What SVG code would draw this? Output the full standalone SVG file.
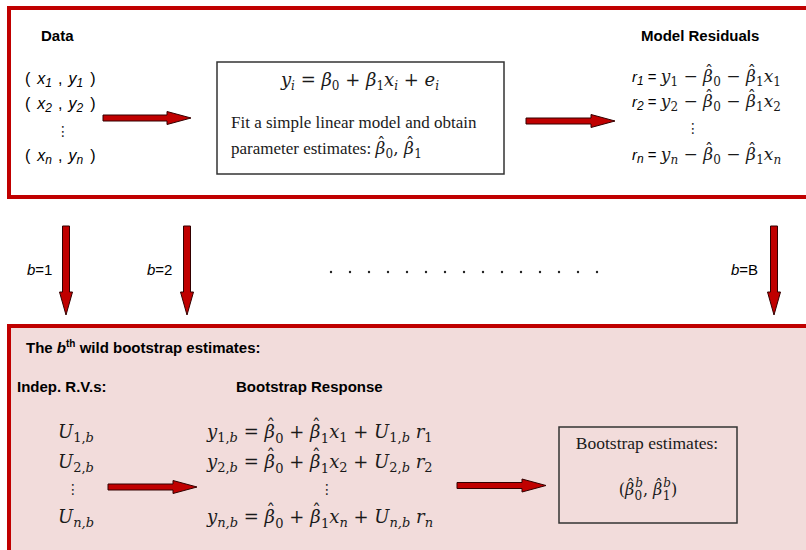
<svg xmlns="http://www.w3.org/2000/svg" width="806" height="550" viewBox="0 0 806 550">
<style>
.sans{font-family:"Liberation Sans",Arial,sans-serif;fill:#000}
.bold{font-weight:bold;font-size:15px}
.pt{font-size:16px}
.it{font-style:italic}
.up{font-style:normal}
.m{font-family:"DejaVu Serif",serif;fill:#1a1a1a}
.r{font-family:"Liberation Serif",serif;fill:#1a1a1a}
.sub{font-size:12px}
.dots{font-family:"DejaVu Sans",sans-serif;font-size:14px;fill:#222}
.arrow{fill:#C00000;stroke:#300;stroke-width:1}
.frame{fill:none;stroke:#333;stroke-width:1.5}
</style>
<g id="top-panel">
<rect x="9" y="8" width="820" height="189" fill="#fff" stroke="#C00000" stroke-width="4"/>
</g>
<g id="bottom-panel">
<rect x="9" y="326" width="820" height="240" fill="#F2DCDB" stroke="#C00000" stroke-width="4"/>
</g>
<g id="data">
<text class="sans bold" x="41" y="41">Data</text>
<text class="sans pt" x="25" y="84">(<tspan class="it" dx="7">x</tspan><tspan class="it sub" dy="3">1</tspan><tspan dx="6" dy="-3">,</tspan><tspan class="it" dx="6">y</tspan><tspan class="it sub" dy="3">1</tspan><tspan dx="7" dy="-3">)</tspan></text>
<text class="sans pt" x="25" y="109">(<tspan class="it" dx="7">x</tspan><tspan class="it sub" dy="3">2</tspan><tspan dx="6" dy="-3">,</tspan><tspan class="it" dx="6">y</tspan><tspan class="it sub" dy="3">2</tspan><tspan dx="7" dy="-3">)</tspan></text>
<text class="dots" x="63" y="136" text-anchor="middle">⋮</text>
<text class="sans pt" x="25" y="161">(<tspan class="it" dx="7">x</tspan><tspan class="it sub" dy="3">n</tspan><tspan dx="6" dy="-3">,</tspan><tspan class="it" dx="6">y</tspan><tspan class="it sub" dy="3">n</tspan><tspan dx="7" dy="-3">)</tspan></text>
</g>
<g id="model">
<rect class="frame" x="217" y="62" width="287" height="112" fill="#fff"/>
<text class="m" x="360" y="86" font-size="18" text-anchor="middle"><tspan class="it">y</tspan><tspan class="it sub" dy="4">i</tspan><tspan dy="-4"> = </tspan><tspan class="it">β</tspan><tspan class="sub" dy="4">0</tspan><tspan dy="-4"> + </tspan><tspan class="it">β</tspan><tspan class="sub" dy="4">1</tspan><tspan class="it" dy="-4">x</tspan><tspan class="it sub" dy="4">i</tspan><tspan dy="-4"> + </tspan><tspan class="it">e</tspan><tspan class="it sub" dy="4">i</tspan></text>
<text class="r" x="231" y="128" font-size="17">Fit a simple linear model and obtain</text>
<text class="r" x="231" y="154" font-size="17">parameter estimates:  <tspan class="m it">β</tspan><tspan class="m" dx="-8.2" dy="-5">ˆ</tspan><tspan class="m sub" dy="9">0</tspan><tspan class="m" dy="-4">, </tspan><tspan class="m it">β</tspan><tspan class="m" dx="-8.2" dy="-5">ˆ</tspan><tspan class="m sub" dy="9">1</tspan></text>
</g>
<g id="residuals">
<text class="sans bold" x="641" y="41">Model Residuals</text>
<text class="sans" font-size="15" x="632" y="82"><tspan class="it">r</tspan><tspan class="it sub" dy="3">1</tspan><tspan dy="-3"> = </tspan><tspan class="m it" font-size="17">y</tspan><tspan class="m sub" dy="4">1</tspan><tspan class="m" font-size="17" dy="-4"> − </tspan><tspan class="m it" font-size="17">β</tspan><tspan class="m" font-size="17" dx="-8.2" dy="-5">ˆ</tspan><tspan class="m sub" dy="9">0</tspan><tspan class="m" font-size="17" dy="-4"> − </tspan><tspan class="m it" font-size="17">β</tspan><tspan class="m" font-size="17" dx="-8.2" dy="-5">ˆ</tspan><tspan class="m sub" dy="9">1</tspan><tspan class="m it" font-size="17" dy="-4">x</tspan><tspan class="m sub" dy="4">1</tspan></text>
<text class="sans" font-size="15" x="632" y="107"><tspan class="it">r</tspan><tspan class="it sub" dy="3">2</tspan><tspan dy="-3"> = </tspan><tspan class="m it" font-size="17">y</tspan><tspan class="m sub" dy="4">2</tspan><tspan class="m" font-size="17" dy="-4"> − </tspan><tspan class="m it" font-size="17">β</tspan><tspan class="m" font-size="17" dx="-8.2" dy="-5">ˆ</tspan><tspan class="m sub" dy="9">0</tspan><tspan class="m" font-size="17" dy="-4"> − </tspan><tspan class="m it" font-size="17">β</tspan><tspan class="m" font-size="17" dx="-8.2" dy="-5">ˆ</tspan><tspan class="m sub" dy="9">1</tspan><tspan class="m it" font-size="17" dy="-4">x</tspan><tspan class="m sub" dy="4">2</tspan></text>
<text class="dots" x="693" y="133" text-anchor="middle">⋮</text>
<text class="sans" font-size="15" x="632" y="160"><tspan class="it">r</tspan><tspan class="it sub" dy="3">n</tspan><tspan dy="-3"> = </tspan><tspan class="m it" font-size="17">y</tspan><tspan class="m it sub" dy="4">n</tspan><tspan class="m" font-size="17" dy="-4"> − </tspan><tspan class="m it" font-size="17">β</tspan><tspan class="m" font-size="17" dx="-8.2" dy="-5">ˆ</tspan><tspan class="m sub" dy="9">0</tspan><tspan class="m" font-size="17" dy="-4"> − </tspan><tspan class="m it" font-size="17">β</tspan><tspan class="m" font-size="17" dx="-8.2" dy="-5">ˆ</tspan><tspan class="m sub" dy="9">1</tspan><tspan class="m it" font-size="17" dy="-4">x</tspan><tspan class="m it sub" dy="4">n</tspan></text>
</g>
<g id="labels">
<text class="sans" font-size="15" x="27" y="275"><tspan class="it">b</tspan>=1</text>
<text class="sans" font-size="15" x="147" y="275"><tspan class="it">b</tspan>=2</text>
<text class="sans" font-size="15" x="731" y="275"><tspan class="it">b</tspan>=B</text>
<g fill="#222">
<circle cx="331" cy="272" r="1.2"/><circle cx="350" cy="272" r="1.2"/><circle cx="369" cy="272" r="1.2"/><circle cx="388" cy="272" r="1.2"/><circle cx="407" cy="272" r="1.2"/><circle cx="426" cy="272" r="1.2"/><circle cx="445" cy="272" r="1.2"/><circle cx="464" cy="272" r="1.2"/><circle cx="483" cy="272" r="1.2"/><circle cx="502" cy="272" r="1.2"/><circle cx="521" cy="272" r="1.2"/><circle cx="540" cy="272" r="1.2"/><circle cx="559" cy="272" r="1.2"/><circle cx="578" cy="272" r="1.2"/><circle cx="597" cy="272" r="1.2"/>
</g>
</g>
<g id="wild-bootstrap">
<text class="sans bold" x="26" y="353">The <tspan class="it">b</tspan><tspan font-size="10" dy="-6">th</tspan><tspan dy="6"> wild bootstrap estimates:</tspan></text>
<text class="sans bold" x="17" y="392">Indep. R.V.s:</text>
<text class="sans bold" x="236" y="392">Bootstrap Response</text>
</g>
<g id="rvs">
<text class="m it" x="58" y="438" font-size="18">U<tspan class="up" font-size="13" dy="4">1,</tspan><tspan font-size="13">b</tspan></text>
<text class="m it" x="58" y="468" font-size="18">U<tspan class="up" font-size="13" dy="4">2,</tspan><tspan font-size="13">b</tspan></text>
<text class="dots" x="73" y="494" text-anchor="middle">⋮</text>
<text class="m it" x="58" y="523" font-size="18">U<tspan font-size="13" dy="4">n,b</tspan></text>
</g>
<g id="response">
<text class="m" x="207" y="438" font-size="18"><tspan class="it">y</tspan><tspan font-size="13" dy="4">1,</tspan><tspan font-size="13" class="it">b</tspan><tspan dy="-4"> = </tspan><tspan class="it">β</tspan><tspan dx="-8.6" dy="-5">ˆ</tspan><tspan font-size="13" dy="10">0</tspan><tspan dy="-5"> + </tspan><tspan class="it">β</tspan><tspan dx="-8.6" dy="-5">ˆ</tspan><tspan font-size="13" dy="10">1</tspan><tspan class="it" dy="-5">x</tspan><tspan font-size="13" dy="4">1</tspan><tspan dy="-4"> + </tspan><tspan class="it">U</tspan><tspan font-size="13" dy="4">1,</tspan><tspan font-size="13" class="it">b</tspan><tspan class="it" dy="-4"> r</tspan><tspan font-size="13" dy="4">1</tspan></text>
<text class="m" x="207" y="468" font-size="18"><tspan class="it">y</tspan><tspan font-size="13" dy="4">2,</tspan><tspan font-size="13" class="it">b</tspan><tspan dy="-4"> = </tspan><tspan class="it">β</tspan><tspan dx="-8.6" dy="-5">ˆ</tspan><tspan font-size="13" dy="10">0</tspan><tspan dy="-5"> + </tspan><tspan class="it">β</tspan><tspan dx="-8.6" dy="-5">ˆ</tspan><tspan font-size="13" dy="10">1</tspan><tspan class="it" dy="-5">x</tspan><tspan font-size="13" dy="4">2</tspan><tspan dy="-4"> + </tspan><tspan class="it">U</tspan><tspan font-size="13" dy="4">2,</tspan><tspan font-size="13" class="it">b</tspan><tspan class="it" dy="-4"> r</tspan><tspan font-size="13" dy="4">2</tspan></text>
<text class="dots" x="327" y="494" text-anchor="middle">⋮</text>
<text class="m" x="207" y="523" font-size="18"><tspan class="it">y</tspan><tspan font-size="13" class="it" dy="4">n,b</tspan><tspan dy="-4"> = </tspan><tspan class="it">β</tspan><tspan dx="-8.6" dy="-5">ˆ</tspan><tspan font-size="13" dy="10">0</tspan><tspan dy="-5"> + </tspan><tspan class="it">β</tspan><tspan dx="-8.6" dy="-5">ˆ</tspan><tspan font-size="13" dy="10">1</tspan><tspan class="it" dy="-5">x</tspan><tspan font-size="13" class="it" dy="4">n</tspan><tspan dy="-4"> + </tspan><tspan class="it">U</tspan><tspan font-size="13" class="it" dy="4">n,b</tspan><tspan class="it" dy="-4"> r</tspan><tspan font-size="13" class="it" dy="4">n</tspan></text>
</g>
<g id="estimates">
<rect class="frame" x="559" y="427" width="178" height="96"/>
<text class="r" x="647" y="449" font-size="17.5" text-anchor="middle">Bootstrap estimates:</text>
<text class="m" x="648" y="495" font-size="16" text-anchor="middle">(<tspan class="it">β</tspan><tspan dx="-7.7" dy="-4.5">ˆ</tspan><tspan font-size="12" dy="9.5">0</tspan><tspan font-size="12" class="it" dx="-7" dy="-13">b</tspan><tspan dy="8">, </tspan><tspan class="it">β</tspan><tspan dx="-7.7" dy="-4.5">ˆ</tspan><tspan font-size="12" dy="9.5">1</tspan><tspan font-size="12" class="it" dx="-7" dy="-13">b</tspan><tspan dy="8">)</tspan></text>
</g>
<g id="connectors">
<path class="arrow" d="M103,115 H167 V111.5 L191,118 L167,124.5 V121 H103 Z"/>
<path class="arrow" d="M526,118 H591 V114.5 L615,121 L591,127.5 V124 H526 Z"/>
<path class="arrow" d="M62.5,226 V292 H59.5 L66,315 L72.5,292 H69.5 V226 Z"/>
<path class="arrow" d="M183.5,226 V292 H180.5 L187,315 L193.5,292 H190.5 V226 Z"/>
<path class="arrow" d="M770.5,226 V292 H767.5 L774,315 L780.5,292 H777.5 V226 Z"/>
<path class="arrow" d="M108,484 H173 V480.5 L197,487 L173,493.5 V490 H108 Z"/>
<path class="arrow" d="M457,482.5 H522 V479 L546,485.5 L522,492 V488.5 H457 Z"/>
</g>
</svg>
